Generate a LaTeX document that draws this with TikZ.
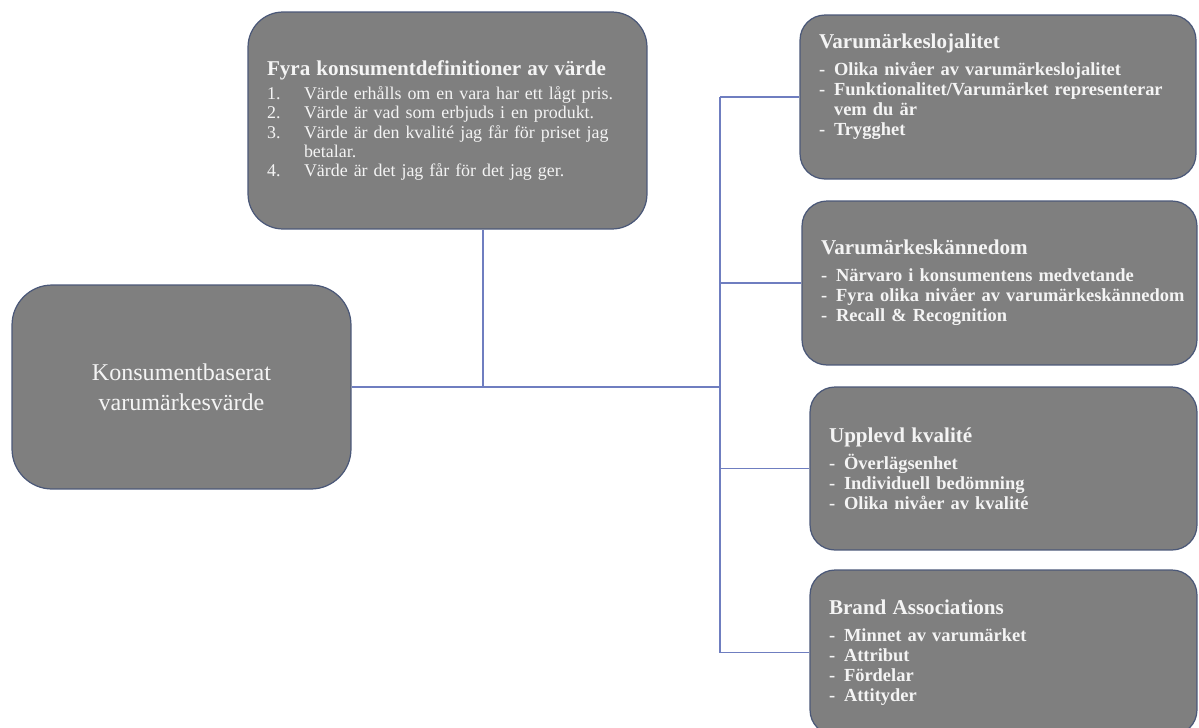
\documentclass[tikz,border=0pt]{standalone}
\usepackage{fontspec}
\setmainfont{Liberation Serif}
\usepackage{tikz}
\usetikzlibrary{positioning, calc}
\definecolor{boxfill}{HTML}{7F7F7F}
\definecolor{boxedge}{HTML}{4B5878}
\definecolor{linkblue}{HTML}{6F7EC0}
\definecolor{boxtext}{HTML}{F4F4F4}
\newcommand{\dashitem}[1]{\mbox{\makebox[0.3cm][l]{-}#1}}
\newcommand{\dashcont}[1]{\mbox{\hspace*{0.3cm}#1}}
\newcommand{\numitem}[2]{\mbox{\makebox[0.74cm][l]{#1}#2}}
\newcommand{\numcont}[1]{\mbox{\hspace*{0.74cm}#1}}
\newcommand{\paneltitle}[1]{\mbox{\fontsize{12}{14}\selectfont\bfseries #1}}

\begin{document}
\begin{tikzpicture}[
    x=0.02cm, y=-0.02cm,
    panel/.style={draw=boxedge, line width=0.7pt, fill=boxfill, rounded corners=0.5cm, text=boxtext, align=left, inner xsep=0.38cm, inner ysep=0pt},
    itemtext/.style={font=\fontsize{10.5}{11.4}\selectfont\bfseries},
    link/.style={draw=linkblue, line width=0.6pt},
]
    \useasboundingbox (0,0) rectangle (1199,727);

    % Main concept
    \node[panel, rounded corners=0.8cm, align=center, minimum width=6.78cm, minimum height=4.08cm, font=\fontsize{13.7}{17}\selectfont] (root) at (181.5,387) {Konsumentbaserat\\varumärkesvärde};

    % Definitions of value
    \node[panel, rounded corners=0.7cm, text width=7.22cm, minimum height=4.34cm, font=\fontsize{10.2}{11}\selectfont] (defs) at (447.5,120.5) {\paneltitle{Fyra konsumentdefinitioner av värde}\\[3pt]
        \numitem{1.}{Värde erhålls om en vara har ett lågt pris.}\\
        \numitem{2.}{Värde är vad som erbjuds i en produkt.}\\
        \numitem{3.}{Värde är den kvalité jag får för priset jag}\\
        \numcont{betalar.}\\
        \numitem{4.}{Värde är det jag får för det jag ger.}};

    % Brand equity dimensions
    \node[panel, itemtext, text width=7.16cm, minimum height=3.28cm] (loyal) at (998,97) {\paneltitle{Varumärkeslojalitet}\\[4pt]
        \dashitem{Olika nivåer av varumärkeslojalitet}\\
        \dashitem{Funktionalitet/Varumärket representerar}\\
        \dashcont{vem du är}\\
        \dashitem{Trygghet}\par\vspace*{0.4cm}};
    \node[panel, itemtext, text width=7.14cm, minimum height=3.28cm] (aware) at (999.5,283) {\paneltitle{Varumärkeskännedom}\\[4pt]
        \dashitem{Närvaro i konsumentens medvetande}\\
        \dashitem{Fyra olika nivåer av varumärkeskännedom}\\
        \dashitem{Recall \& Recognition}};
    \node[panel, itemtext, text width=6.98cm, minimum height=3.26cm] (quality) at (1003.5,468.5) {\paneltitle{Upplevd kvalité}\\[4pt]
        \dashitem{Överlägsenhet}\\
        \dashitem{Individuell bedömning}\\
        \dashitem{Olika nivåer av kvalité}};
    \node[panel, itemtext, text width=6.98cm, minimum height=3.3cm] (assoc) at (1003.5,652.5) {\paneltitle{Brand Associations}\\[4pt]
        \dashitem{Minnet av varumärket}\\
        \dashitem{Attribut}\\
        \dashitem{Fördelar}\\
        \dashitem{Attityder}};

    % Connectors
    \coordinate (hub) at (483,387);
    \coordinate (bus) at (720,387);
    \draw[link] (root.east) -- (bus);
    \draw[link] (defs.south -| hub) -- (hub);
    \draw[link] (bus |- loyal.west) -- (bus |- assoc.west);
    \foreach \b in {loyal, aware, quality, assoc}
        \draw[link] (bus |- \b.west) -- (\b.west);
\end{tikzpicture}
\end{document}
